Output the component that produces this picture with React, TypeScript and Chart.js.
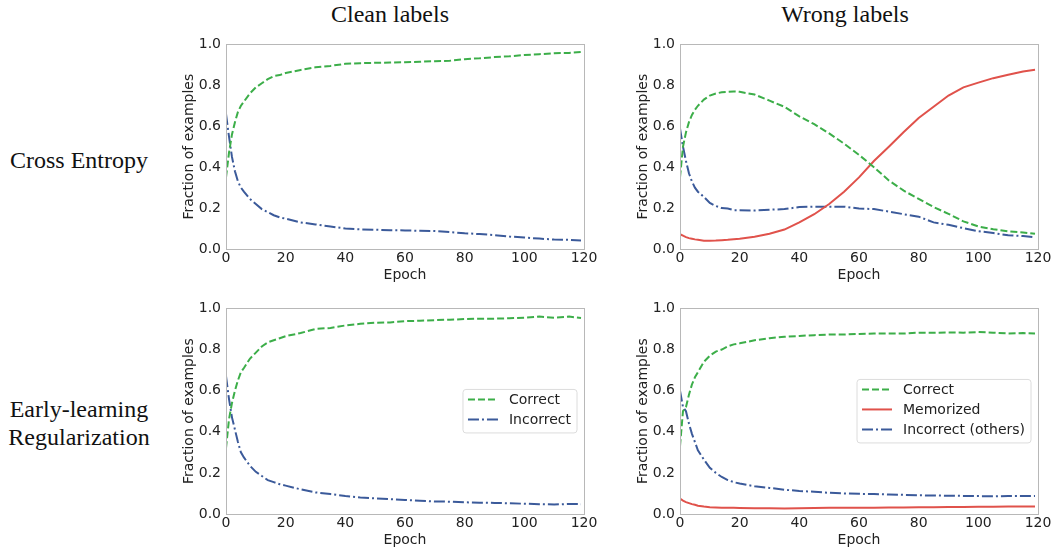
import React, { useEffect, useRef } from "react";
import { Chart, registerables } from "chart.js";

Chart.register(...registerables);

// ---------- data ----------
const EPOCHS = [0, 1, 2, 3, 4, 5, 6, 8, 10, 12, 14, 16, 18, 20, 25, 30, 35, 40, 45, 50, 55, 60, 65, 70, 75, 80, 85, 90, 95, 100, 105, 110, 115, 119];

const CE_CLEAN_CORRECT = [0.35, 0.47, 0.56, 0.62, 0.67, 0.70, 0.72, 0.76, 0.79, 0.81, 0.83, 0.845, 0.85, 0.86, 0.875, 0.888, 0.895, 0.905, 0.908, 0.91, 0.911, 0.913, 0.915, 0.918, 0.92, 0.928, 0.932, 0.938, 0.942, 0.948, 0.952, 0.957, 0.958, 0.963];
const CE_CLEAN_INCORRECT = [0.66, 0.55, 0.45, 0.38, 0.33, 0.30, 0.28, 0.245, 0.22, 0.195, 0.18, 0.165, 0.155, 0.148, 0.13, 0.12, 0.11, 0.10, 0.096, 0.094, 0.092, 0.091, 0.089, 0.088, 0.083, 0.077, 0.073, 0.068, 0.061, 0.056, 0.051, 0.046, 0.045, 0.041];

const CE_WRONG_CORRECT = [0.35, 0.50, 0.57, 0.62, 0.655, 0.68, 0.70, 0.73, 0.75, 0.76, 0.766, 0.768, 0.77, 0.768, 0.755, 0.725, 0.695, 0.648, 0.61, 0.565, 0.515, 0.46, 0.40, 0.335, 0.285, 0.245, 0.205, 0.172, 0.135, 0.11, 0.097, 0.086, 0.081, 0.074];
const CE_WRONG_MEMORIZED = [0.072, 0.065, 0.058, 0.053, 0.05, 0.047, 0.045, 0.04, 0.04, 0.041, 0.043, 0.045, 0.048, 0.05, 0.06, 0.075, 0.095, 0.13, 0.17, 0.22, 0.28, 0.35, 0.43, 0.50, 0.572, 0.64, 0.695, 0.75, 0.79, 0.813, 0.835, 0.852, 0.868, 0.876];
const CE_WRONG_OTHERS = [0.59, 0.50, 0.43, 0.37, 0.33, 0.30, 0.28, 0.255, 0.225, 0.21, 0.20, 0.198, 0.19, 0.19, 0.188, 0.192, 0.195, 0.205, 0.207, 0.207, 0.207, 0.198, 0.195, 0.183, 0.17, 0.158, 0.13, 0.118, 0.102, 0.087, 0.078, 0.067, 0.063, 0.057];

const ELR_CLEAN_CORRECT = [0.32, 0.46, 0.54, 0.60, 0.65, 0.69, 0.71, 0.755, 0.785, 0.815, 0.835, 0.845, 0.855, 0.865, 0.88, 0.90, 0.905, 0.917, 0.925, 0.93, 0.932, 0.938, 0.94, 0.943, 0.945, 0.948, 0.95, 0.95, 0.952, 0.955, 0.96, 0.955, 0.96, 0.953];
const ELR_CLEAN_INCORRECT = [0.67, 0.56, 0.47, 0.41, 0.35, 0.30, 0.275, 0.235, 0.205, 0.185, 0.165, 0.155, 0.145, 0.138, 0.12, 0.105, 0.097, 0.087, 0.08, 0.076, 0.072, 0.068, 0.065, 0.061, 0.06, 0.057, 0.055, 0.054, 0.052, 0.05, 0.048, 0.046, 0.049, 0.048];

const ELR_WRONG_CORRECT = [0.33, 0.50, 0.52, 0.58, 0.63, 0.665, 0.69, 0.74, 0.77, 0.79, 0.80, 0.815, 0.825, 0.83, 0.845, 0.855, 0.862, 0.866, 0.87, 0.873, 0.873, 0.876, 0.878, 0.878, 0.878, 0.882, 0.881, 0.883, 0.882, 0.885, 0.882, 0.878, 0.88, 0.878];
const ELR_WRONG_MEMORIZED = [0.075, 0.065, 0.058, 0.053, 0.048, 0.045, 0.04, 0.036, 0.033, 0.032, 0.031, 0.03, 0.03, 0.029, 0.028, 0.028, 0.027, 0.028, 0.029, 0.03, 0.03, 0.031, 0.031, 0.032, 0.032, 0.033, 0.033, 0.034, 0.034, 0.035, 0.035, 0.036, 0.037, 0.036];
const ELR_WRONG_OTHERS = [0.60, 0.52, 0.50, 0.44, 0.39, 0.35, 0.31, 0.265, 0.225, 0.20, 0.18, 0.165, 0.155, 0.148, 0.135, 0.127, 0.118, 0.112, 0.108, 0.103, 0.10, 0.098, 0.097, 0.095, 0.093, 0.091, 0.09, 0.089, 0.088, 0.087, 0.086, 0.087, 0.087, 0.088];

const Y_TICKS = [0, 0.2, 0.4, 0.6, 0.8, 1.0];
const X_TICKS = [0, 20, 40, 60, 80, 100, 120];
const COLUMN_TITLES = ["Clean labels", "Wrong labels"];
const ROW_TITLES = [["Cross Entropy"], ["Early-learning", "Regularization"]];
const X_TITLE = "Epoch";
const Y_TITLE = "Fraction of examples";

// ---------- styles ----------
const GREEN = "#3cae49";
const RED = "#e0524b";
const BLUE = "#3b5a9a";
const DASH = [7, 3];
const DASHDOT = [11, 3, 2, 3];
const TICK_FONT = { family: "'DejaVu Sans'", size: 14 };

type Series = { label: string; values: number[]; kind: "correct" | "memorized" | "incorrect" };

const styleFor = (kind: Series["kind"]) => {
  if (kind === "correct") return { borderColor: GREEN, borderDash: DASH };
  if (kind === "memorized") return { borderColor: RED, borderDash: [] as number[] };
  return { borderColor: BLUE, borderDash: DASHDOT };
};

const framePlugin = {
  id: "frameBox",
  afterDatasetsDraw(chart: any) {
    const { ctx, chartArea: a } = chart;
    ctx.save();
    ctx.strokeStyle = "#b8b8b8";
    ctx.lineWidth = 1;
    ctx.setLineDash([]);
    ctx.strokeRect(Math.round(a.left) + 0.5, Math.round(a.top) + 0.5, Math.round(a.right - a.left), Math.round(a.bottom - a.top));
    ctx.restore();
  },
};

const boxLegendPlugin = {
  id: "boxLegend",
  afterDraw(chart: any, _args: any, opts: any) {
    if (!opts || !opts.show) return;
    const { ctx, chartArea: a } = chart;
    const sets = chart.data.datasets;
    ctx.save();
    ctx.font = "14px 'DejaVu Sans'";
    let maxW = 0;
    sets.forEach((d: any) => {
      maxW = Math.max(maxW, ctx.measureText(d.label).width);
    });
    const rowH = 20;
    const w = 5 + 30 + 11 + maxW + 6;
    const h = 10 + (sets.length - 1) * rowH + 13.5;
    const right = a.right - 7;
    const left = right - w;
    const top = (a.top + a.bottom) / 2 - h / 2;
    const r = 3;
    ctx.beginPath();
    ctx.moveTo(left + r, top);
    ctx.lineTo(left + w - r, top);
    ctx.arcTo(left + w, top, left + w, top + r, r);
    ctx.lineTo(left + w, top + h - r);
    ctx.arcTo(left + w, top + h, left + w - r, top + h, r);
    ctx.lineTo(left + r, top + h);
    ctx.arcTo(left, top + h, left, top + h - r, r);
    ctx.lineTo(left, top + r);
    ctx.arcTo(left, top, left + r, top, r);
    ctx.closePath();
    ctx.fillStyle = "rgba(255,255,255,0.85)";
    ctx.fill();
    ctx.strokeStyle = "#dcdcdc";
    ctx.lineWidth = 1;
    ctx.stroke();
    sets.forEach((d: any, i: number) => {
      const cy = top + 10 + i * rowH;
      ctx.beginPath();
      ctx.setLineDash(d.borderDash || []);
      ctx.strokeStyle = d.borderColor;
      ctx.lineWidth = d.borderWidth;
      ctx.moveTo(left + 5, cy);
      ctx.lineTo(left + 35, cy);
      ctx.stroke();
      ctx.setLineDash([]);
      ctx.fillStyle = "#222";
      ctx.textBaseline = "middle";
      ctx.textAlign = "left";
      ctx.fillText(d.label, left + 46, cy + 1);
    });
    ctx.restore();
  },
};

type PanelProps = { left: number; top: number; width: number; height: number; series: Series[]; legend: boolean };

function Panel({ left, top, width, height, series, legend }: PanelProps) {
  const ref = useRef<HTMLCanvasElement>(null);
  useEffect(() => {
    if (!ref.current) return;
    const chart = new Chart(ref.current, {
      type: "line",
      data: {
        datasets: series.map((s) => ({
          label: s.label,
          data: EPOCHS.map((e, i) => ({ x: e, y: s.values[i] })),
          borderWidth: 2,
          pointRadius: 0,
          tension: 0,
          fill: false,
          ...styleFor(s.kind),
        })),
      },
      options: {
        animation: false,
        responsive: false,
        devicePixelRatio: 1,
        layout: { padding: { top: 10, right: 16, left: 0, bottom: 0 } },
        plugins: {
          legend: { display: false },
          tooltip: { enabled: false },
          boxLegend: { show: legend },
        } as any,
        scales: {
          x: {
            type: "linear",
            min: 0,
            max: 120,
            afterFit: (s: any) => {
              s.height = 36;
            },
            afterBuildTicks: (s: any) => {
              s.ticks = X_TICKS.map((v) => ({ value: v }));
            },
            ticks: { font: TICK_FONT, color: "#222", padding: 1, maxRotation: 0, autoSkip: false, callback: (v: any) => String(v) },
            grid: { display: false, drawTicks: false, tickLength: 0 },
            border: { display: false },
            title: { display: true, text: X_TITLE, font: TICK_FONT, color: "#222", padding: { top: 0, bottom: 1 } },
          },
          y: {
            type: "linear",
            min: 0,
            max: 1,
            afterFit: (s: any) => {
              s.width = 56;
            },
            afterBuildTicks: (s: any) => {
              s.ticks = Y_TICKS.map((v) => ({ value: v }));
            },
            ticks: { font: TICK_FONT, color: "#222", padding: 5, autoSkip: false, callback: (v: any) => Number(v).toFixed(1) },
            grid: { display: false, drawTicks: false, tickLength: 0 },
            border: { display: false },
            title: { display: true, text: Y_TITLE, font: TICK_FONT, color: "#222", padding: { top: 11, bottom: 0 } },
          },
        },
      },
      plugins: [framePlugin, boxLegendPlugin],
    } as any);
    return () => chart.destroy();
  }, []);
  return (
    <div style={{ position: "absolute", left, top, width, height }}>
      <canvas ref={ref} width={width} height={height} style={{ display: "block", width, height }} />
    </div>
  );
}

const serif: React.CSSProperties = {
  position: "absolute",
  fontFamily: "'Liberation Serif', 'Times New Roman', serif",
  fontSize: 24,
  lineHeight: "28px",
  color: "#111",
  textAlign: "center",
  whiteSpace: "nowrap",
};

export default function App() {
  return (
    <div style={{ position: "absolute", left: 0, top: 0, width: 1054, height: 550, background: "#fff", overflow: "hidden" }}>
      <div style={{ ...serif, left: 240, top: 0, width: 300 }}>{COLUMN_TITLES[0]}</div>
      <div style={{ ...serif, left: 695, top: 0, width: 300 }}>{COLUMN_TITLES[1]}</div>
      <div style={{ ...serif, left: 0, top: 146, width: 158 }}>
        {ROW_TITLES[0].map((t) => (
          <div key={t}>{t}</div>
        ))}
      </div>
      <div style={{ ...serif, left: 0, top: 395, width: 158 }}>
        {ROW_TITLES[1].map((t) => (
          <div key={t}>{t}</div>
        ))}
      </div>
      <Panel
        left={170}
        top={31}
        width={430}
        height={254}
        legend={false}
        series={[
          { label: "Correct", values: CE_CLEAN_CORRECT, kind: "correct" },
          { label: "Incorrect", values: CE_CLEAN_INCORRECT, kind: "incorrect" },
        ]}
      />
      <Panel
        left={624}
        top={31}
        width={430}
        height={254}
        legend={false}
        series={[
          { label: "Correct", values: CE_WRONG_CORRECT, kind: "correct" },
          { label: "Memorized", values: CE_WRONG_MEMORIZED, kind: "memorized" },
          { label: "Incorrect (others)", values: CE_WRONG_OTHERS, kind: "incorrect" },
        ]}
      />
      <Panel
        left={170}
        top={295}
        width={430}
        height={255}
        legend={true}
        series={[
          { label: "Correct", values: ELR_CLEAN_CORRECT, kind: "correct" },
          { label: "Incorrect", values: ELR_CLEAN_INCORRECT, kind: "incorrect" },
        ]}
      />
      <Panel
        left={624}
        top={295}
        width={430}
        height={255}
        legend={true}
        series={[
          { label: "Correct", values: ELR_WRONG_CORRECT, kind: "correct" },
          { label: "Memorized", values: ELR_WRONG_MEMORIZED, kind: "memorized" },
          { label: "Incorrect (others)", values: ELR_WRONG_OTHERS, kind: "incorrect" },
        ]}
      />
    </div>
  );
}
